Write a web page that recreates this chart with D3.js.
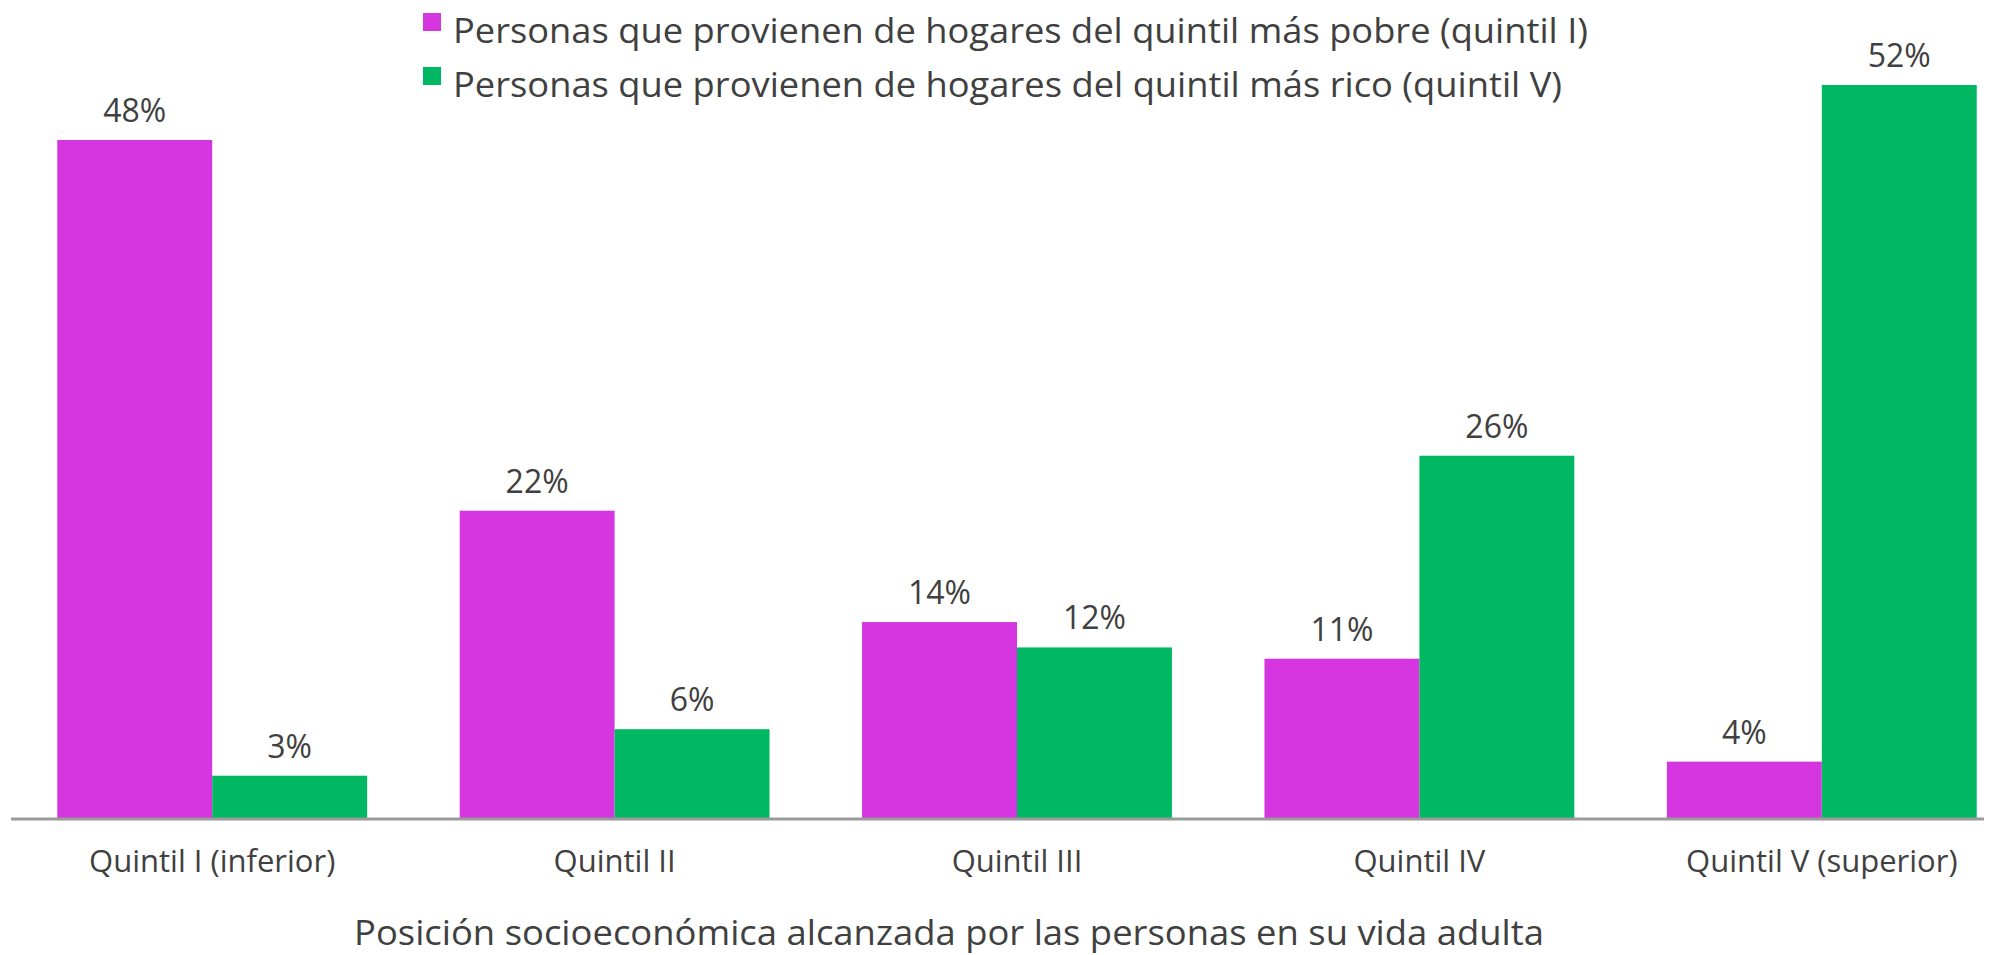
<!DOCTYPE html>
<html>
<head>
<meta charset="utf-8">
<script src="https://cdn.jsdelivr.net/npm/d3@7"></script>
<style>
  body { margin: 0; background: #ffffff; }
  text { font-family: 'Open Sans', 'Noto Sans', sans-serif; fill: #404040; }
</style>
</head>
<body>
<div class="row"></div>
<script>
// categories on the x axis (position reached in adult life)
var categories = ['Quintil I (inferior)', 'Quintil II', 'Quintil III', 'Quintil IV', 'Quintil V (superior)']
// series names for the legend
var seriesNames = [
  'Personas que provienen de hogares del quintil más pobre (quintil I)',
  'Personas que provienen de hogares del quintil más rico (quintil V)'
]
// share of people per quintil
var pobres = [0.481, 0.218, 0.139, 0.113, 0.040]
var ricos = [0.030, 0.063, 0.121, 0.257, 0.520]
var colours = ['#d536df', '#00b862']
var xTitle = 'Posición socioeconómica alcanzada por las personas en su vida adulta'

var data = categories.map(function (c, i) {
  return { cat: c, values: [pobres[i], ricos[i]] }
})

var width = 2006
var height = 955
var baseline = 818

var svg = d3.select('.row')
  .append('svg')
  .attr('width', width)
  .attr('height', height)

// outer band for each quintil, inner band for each series
var x0 = d3.scaleBand()
  .domain(categories)
  .range([11, 2023])
  .paddingInner(0.23)
  .paddingOuter(0.115)

var x1 = d3.scaleBand()
  .domain([0, 1])
  .range([0, x0.bandwidth()])

var y = d3.scaleLinear()
  .domain([0, 0.52])
  .range([baseline, 85])

// bars
var groups = svg.selectAll('.group')
  .data(data)
  .enter().append('g')
  .attr('class', 'group')
  .attr('transform', function (d) { return 'translate(' + x0(d.cat) + ',0)' })

groups.selectAll('rect')
  .data(function (d) { return d.values })
  .enter().append('rect')
  .attr('x', function (d, i) { return x1(i) })
  .attr('width', x1.bandwidth())
  .attr('y', function (d) { return y(d) })
  .attr('height', function (d) { return y(0) - y(d) })
  .style('fill', function (d, i) { return colours[i] })

// value labels
groups.selectAll('.val')
  .data(function (d) { return d.values })
  .enter().append('text')
  .attr('class', 'val')
  .attr('x', function (d, i) { return x1(i) + x1.bandwidth() / 2 })
  .attr('y', function (d) { return y(d) - 18 })
  .style('text-anchor', 'middle')
  .style('font-size', '32px')
  .text(function (d) { return d3.format('.0%')(d) })

// x axis: only the labels, the line is drawn below
var xAxis = d3.axisBottom(x0).tickSize(0).tickPadding(0)
var gx = svg.append('g')
  .attr('class', 'x axis')
  .attr('transform', 'translate(0,' + baseline + ')')
  .call(xAxis)
gx.select('.domain').remove()
gx.selectAll('text')
  .attr('dy', null)
  .attr('y', 54)
  .style('font-size', '31px')
  .style('font-family', "'Open Sans', sans-serif")
  .style('fill', '#404040')

svg.append('line')
  .attr('x1', 11)
  .attr('x2', 1984)
  .attr('y1', baseline + 1)
  .attr('y2', baseline + 1)
  .attr('stroke', '#9a9a9a')
  .attr('stroke-width', 3)

// x axis title
svg.append('text')
  .attr('class', 'x label')
  .attr('x', 949)
  .attr('y', 945)
  .style('text-anchor', 'middle')
  .style('font-size', '35px')
  .attr('textLength', 1190)
  .attr('lengthAdjust', 'spacingAndGlyphs')
  .text(xTitle)

// legend
var legendWidths = [1135, 1109]
var legend = svg.selectAll('.legend')
  .data(seriesNames)
  .enter().append('g')
  .attr('class', 'legend')
  .attr('transform', function (d, i) { return 'translate(423,' + (13 + i * 54) + ')' })

legend.append('rect')
  .attr('width', 18)
  .attr('height', 18)
  .style('fill', function (d, i) { return colours[i] })

legend.append('text')
  .attr('x', 30)
  .attr('y', 30)
  .style('font-size', '34px')
  .attr('textLength', function (d, i) { return legendWidths[i] })
  .attr('lengthAdjust', 'spacingAndGlyphs')
  .text(function (d) { return d })
</script>
</body>
</html>
